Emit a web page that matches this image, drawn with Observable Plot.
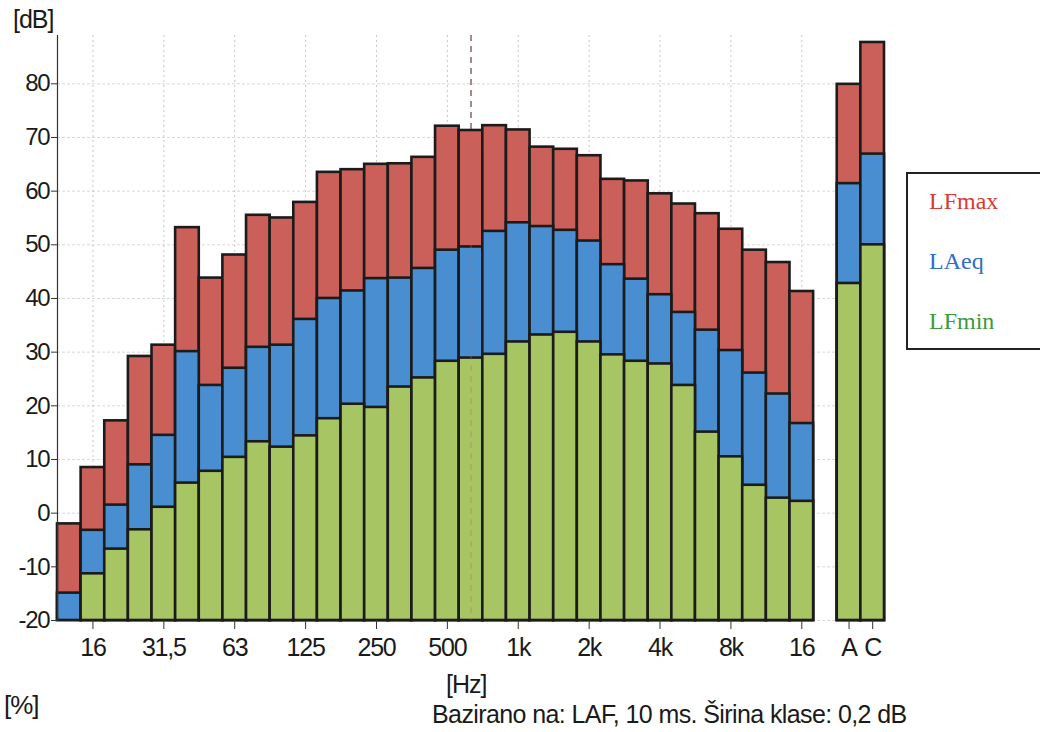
<!DOCTYPE html>
<html>
<head>
<meta charset="utf-8">
<script src="https://cdn.jsdelivr.net/npm/d3@7"></script>
<script src="https://cdn.jsdelivr.net/npm/@observablehq/plot@0.6"></script>
<style>
  html, body { margin: 0; padding: 0; background: #fff; overflow: hidden; }
  #wrap { position: relative; width: 1040px; height: 732px; font-family: "Liberation Sans", Arial, sans-serif; color: #1a1a1a; }
  #chart svg text { letter-spacing: -1.2px; }
  .lbl { position: absolute; white-space: nowrap; letter-spacing: -1px; }
  #legend { position: absolute; left: 906px; top: 172px; width: 150px; height: 174px; border: 2px solid #222; background: #fff; font-family: "Liberation Serif", "Times New Roman", serif; font-size: 24px; }
  #legend div { position: absolute; left: 21px; }
</style>
</head>
<body>
<div id="wrap">
  <div id="chart"></div>
  <div class="lbl" style="left:13px; top:5px; font-size:25px;">[dB]</div>
  <div class="lbl" style="left:446px; top:670px; font-size:25px;">[Hz]</div>
  <div class="lbl" style="left:4px; top:690px; font-size:26px;">[%]</div>
  <div class="lbl" style="left:432px; top:700px; font-size:25px; letter-spacing:-0.6px;">Bazirano na: LAF, 10 ms. Širina klase: 0,2 dB</div>
  <div id="legend">
    <div style="top:14px; color:#d83a35;">LFmax</div>
    <div style="top:74px; color:#2e6ec8;">LAeq</div>
    <div style="top:134px; color:#3d9a3a;">LFmin</div>
  </div>
</div>
<script>
// Third-octave bands plus the A / C totals
const bands = ["12.5","16","20","25","31.5","40","50","63","80","100","125","160","200","250","315","400","500","630","800","1k","1.25k","1.6k","2k","2.5k","3.15k","4k","5k","6.3k","8k","10k","12.5k","16k","A","C"];
const lfmax = [-2.0, 8.5, 17.2, 29.2, 31.3, 53.2, 43.8, 48.1, 55.5, 55.0, 57.9, 63.5, 64.0, 65.0, 65.1, 66.3, 72.1, 71.3, 72.2, 71.4, 68.2, 67.8, 66.6, 62.2, 61.9, 59.5, 57.6, 55.8, 52.9, 49.0, 46.7, 41.3, 79.9, 87.7];
const laeq  = [-14.9, -3.2, 1.5, 9.0, 14.5, 30.1, 23.8, 27.0, 30.9, 31.3, 36.1, 40.0, 41.4, 43.7, 43.8, 45.6, 49.0, 49.6, 52.5, 54.1, 53.4, 52.7, 50.7, 46.3, 43.6, 40.7, 37.4, 34.1, 30.3, 26.1, 22.2, 16.7, 61.4, 66.9];
const lfmin = [-20, -11.3, -6.7, -3.1, 1.1, 5.6, 7.8, 10.4, 13.3, 12.3, 14.4, 17.6, 20.3, 19.7, 23.5, 25.2, 28.3, 28.9, 29.6, 31.9, 33.2, 33.7, 31.9, 29.5, 28.3, 27.8, 23.8, 15.1, 10.5, 5.2, 2.8, 2.2, 42.8, 50.0];

// x domain: the 32 bands, an empty slot, then A and C
const xDomain = [...bands.slice(0, 32), "", "A", "C"];
const xTickBands = ["16","31.5","63","125","250","500","1k","2k","4k","8k","16k","A","C"];
const xTickLabels = ["16","31,5","63","125","250","500","1k","2k","4k","8k","16","A","C"];
const xGridBands = ["16","31.5","63","125","250","500","1k","2k","4k","8k","16k"];
const cursorBand = ["630"];
const yDomain = [-20, 89];
const yTicks = [-20, -10, 0, 10, 20, 30, 40, 50, 60, 70, 80];

const seriesColors = { LFmax: "#cb5f5a", LAeq: "#4a8ed2", LFmin: "#a8c563" };
const rows = (vals) => bands.map((b, i) => ({ band: b, value: vals[i] }));
const labelOf = new Map(xTickBands.map((b, i) => [b, xTickLabels[i]]));

const barOpts = (fill) => ({ x: "band", y1: yDomain[0], y2: "value", fill, stroke: "#1b1b1b", strokeWidth: 2.6, inset: 0 });

const chart = Plot.plot({
  width: 1040,
  height: 668,
  marginLeft: 57,
  marginRight: 156,
  marginTop: 35,
  marginBottom: 48,
  style: { fontFamily: "'Liberation Sans', Arial, sans-serif", color: "#1a1a1a", background: "transparent" },
  x: { type: "band", domain: xDomain, padding: 0, round: false, axis: null, label: null },
  y: { domain: yDomain, axis: null, label: null },
  marks: [
    Plot.gridY(yTicks, { stroke: "#c8c8c8", strokeOpacity: 0.7, strokeDasharray: "3,2" }),
    Plot.gridX(xGridBands, { stroke: "#b0b0b0", strokeOpacity: 0.7, strokeDasharray: "2,3" }),
    Plot.ruleX(cursorBand, { stroke: "#555", strokeDasharray: "6,5", strokeWidth: 1.2 }),
    Plot.barY(rows(lfmax), barOpts(seriesColors.LFmax)),
    Plot.barY(rows(laeq), barOpts(seriesColors.LAeq)),
    Plot.barY(rows(lfmin), barOpts(seriesColors.LFmin)),
    Plot.ruleX(cursorBand, { stroke: "#b07060", strokeDasharray: "6,5", strokeWidth: 1, strokeOpacity: 0.5 }),
    Plot.frame({ anchor: "left", stroke: "#333", strokeWidth: 1.2 }),
    Plot.axisY(yTicks, { label: null, tickSize: 6, tickPadding: 2, fontSize: 24, stroke: "#333", fill: "#1a1a1a", tickFormat: (d) => String(d) }),
    Plot.axisX(xTickBands, { label: null, tickSize: 9, tickPadding: 9, fontSize: 25, stroke: "#333", fill: "#1a1a1a", tickFormat: (d) => labelOf.get(d) })
  ]
});
document.getElementById("chart").appendChild(chart);
</script>
</body>
</html>
